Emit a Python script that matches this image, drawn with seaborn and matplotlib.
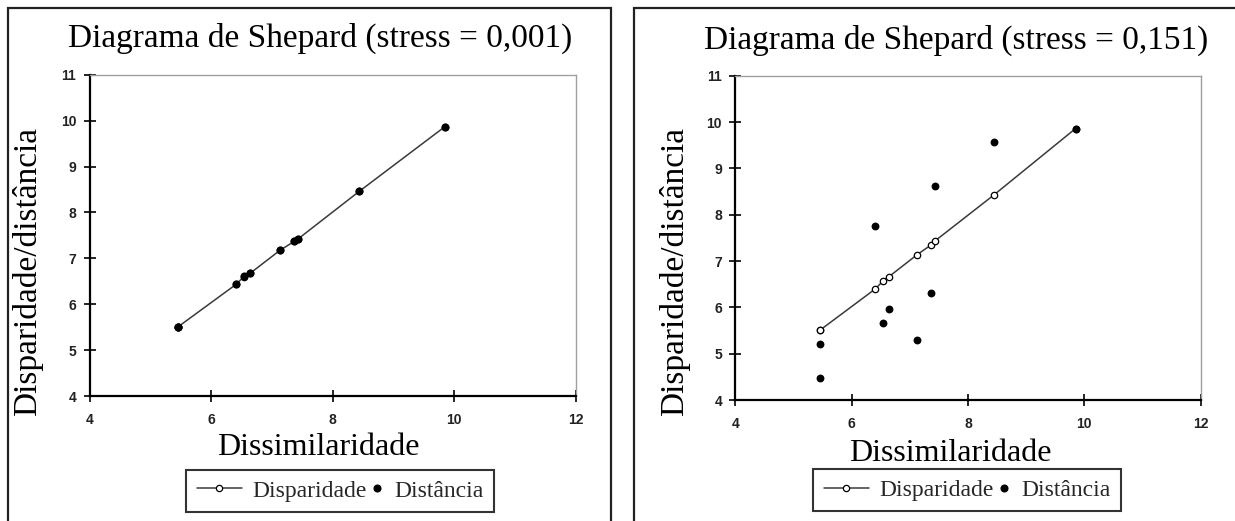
import numpy as np
import pandas as pd
import matplotlib
matplotlib.use("Agg")
import matplotlib.pyplot as plt
import seaborn as sns
from matplotlib.lines import Line2D
from matplotlib.patches import Rectangle
from matplotlib.legend_handler import HandlerBase

# ---------------- data ----------------
dissimilaridade = [5.46, 5.46, 6.41, 6.54, 6.64, 7.13, 7.37, 7.43, 8.44, 9.85]
disparidade_a = [5.51, 5.51, 6.43, 6.60, 6.67, 7.17, 7.37, 7.42, 8.46, 9.87]
distancia_a = [5.51, 5.50, 6.43, 6.61, 6.67, 7.17, 7.37, 7.43, 8.46, 9.87]
disparidade_b = [5.51, 5.51, 6.40, 6.57, 6.66, 7.14, 7.35, 7.43, 8.42, 9.86]
distancia_b = [5.21, 4.47, 7.76, 5.67, 5.96, 5.30, 6.32, 8.62, 9.57, 9.86]
titles = ["Diagrama de Shepard (stress = 0,001)", "Diagrama de Shepard (stress = 0,151)"]
x_ticks = [4, 6, 8, 10, 12]
y_ticks = [4, 5, 6, 7, 8, 9, 10, 11]
xlabel = "Dissimilaridade"
ylabel = "Disparidade/distância"
legend_labels = ["Disparidade", "Distância"]

sns.set_theme(style="white")
plt.rcParams["font.family"] = ["Liberation Serif", "DejaVu Serif"]

W, H = 1235, 521
fig = plt.figure(figsize=(W / 100, H / 100), dpi=100)


def fx(px):
    return px / W


def fy(py):
    return 1 - py / H


class DotHandler(HandlerBase):
    def create_artists(self, legend, orig_handle, xdescent, ydescent,
                       width, height, fontsize, trans):
        x = -xdescent + width - 4.5
        y = (height - ydescent) / 2.0
        ln = Line2D([x], [y], marker="o", linestyle="none", color="black",
                    markersize=4.8)
        ln.set_transform(trans)
        return [ln]


panels = [
    dict(disp=disparidade_a, dist=distancia_a, ax=(89.5, 575.7, 74.7, 396.0),
         border=(8, 611), title_xy=(320, 47), ylab_x=28, xlab_xy=(318, 455),
         leg_c=(340, 491), dot_s=34),
    dict(disp=disparidade_b, dist=distancia_b, ax=(735.2, 1200.7, 75.7, 400.0),
         border=(634, 1245), title_xy=(956, 49), ylab_x=675, xlab_xy=(950, 461),
         leg_c=(967, 490), dot_s=32),
]

for i, p in enumerate(panels):
    x0, x1, t, b = p["ax"]
    ax = fig.add_axes([fx(x0), fy(b), fx(x1) - fx(x0), fy(t) - fy(b)])
    df = pd.DataFrame({"dis": dissimilaridade, "disp": p["disp"], "dist": p["dist"]})
    sns.lineplot(data=df, x="dis", y="disp", ax=ax, estimator=None, sort=True,
                 color="#3a3a3a", linewidth=1.1, marker="o", markersize=4.6,
                 markerfacecolor="white", markeredgecolor="black",
                 markeredgewidth=0.9, legend=False)
    sns.scatterplot(data=df, x="dis", y="dist", ax=ax, color="black",
                    s=p["dot_s"], edgecolor="black", linewidth=0, legend=False,
                    zorder=5)
    ax.set_xlim(4, 12)
    ax.set_ylim(4, 11)
    ax.set_xticks(x_ticks)
    ax.set_yticks(y_ticks)
    ax.set_xticklabels([str(v) for v in x_ticks])
    ax.set_yticklabels([str(v) for v in y_ticks])
    ax.set_xlabel("")
    ax.set_ylabel("")
    for lab in ax.get_xticklabels() + ax.get_yticklabels():
        lab.set_fontfamily(["Liberation Sans", "DejaVu Sans"])
        lab.set_fontweight("bold")
        lab.set_fontsize(10)
        lab.set_color("#222222")
    ax.tick_params(axis="both", which="major", direction="inout", length=9,
                   width=1.2, color="black", left=True, bottom=True)
    ax.tick_params(axis="x", pad=8)
    ax.tick_params(axis="y", pad=5)
    for s in ["left", "bottom"]:
        ax.spines[s].set_color("black")
        ax.spines[s].set_linewidth(1.6)
    for s in ["top", "right"]:
        ax.spines[s].set_color("#a0a0a0")
        ax.spines[s].set_linewidth(1.0)
    ax.set_facecolor("white")

    # panel border
    bx0, bx1 = p["border"]
    fig.add_artist(Rectangle((fx(bx0), -0.2), fx(bx1) - fx(bx0), fy(8) + 0.2,
                             transform=fig.transFigure, fill=False,
                             edgecolor="#222222", linewidth=1.6))

    # texts
    tx, ty = p["title_xy"]
    fig.text(fx(tx), fy(ty), titles[i], ha="center", va="baseline",
             fontsize=24, color="black")
    fig.text(fx(p["ylab_x"]), fy(271), ylabel, rotation=90, ha="center",
             va="center", fontsize=24, color="black")
    lx, ly = p["xlab_xy"]
    fig.text(fx(lx), fy(ly), xlabel, ha="center", va="baseline",
             fontsize=23, color="black")

    # legend
    h_line = Line2D([], [], color="#3a3a3a", linewidth=1.1, marker="o",
                    markersize=4.5, markerfacecolor="white",
                    markeredgecolor="black", markeredgewidth=0.9)
    h_dot = Line2D([], [], color="black", marker="o", linestyle="none")
    leg = fig.legend([h_line, h_dot], legend_labels, loc="center",
                     bbox_to_anchor=(fx(p["leg_c"][0]), fy(p["leg_c"][1])),
                     ncol=2, fontsize=17, frameon=True, fancybox=False,
                     handlelength=1.9, handletextpad=0.45, columnspacing=-1.2,
                     borderpad=0.45, borderaxespad=0,
                     handler_map={h_dot: DotHandler()})
    leg.get_frame().set_edgecolor("black")
    leg.get_frame().set_linewidth(1.5)

fig.savefig("out.png", dpi=100, facecolor="white")
